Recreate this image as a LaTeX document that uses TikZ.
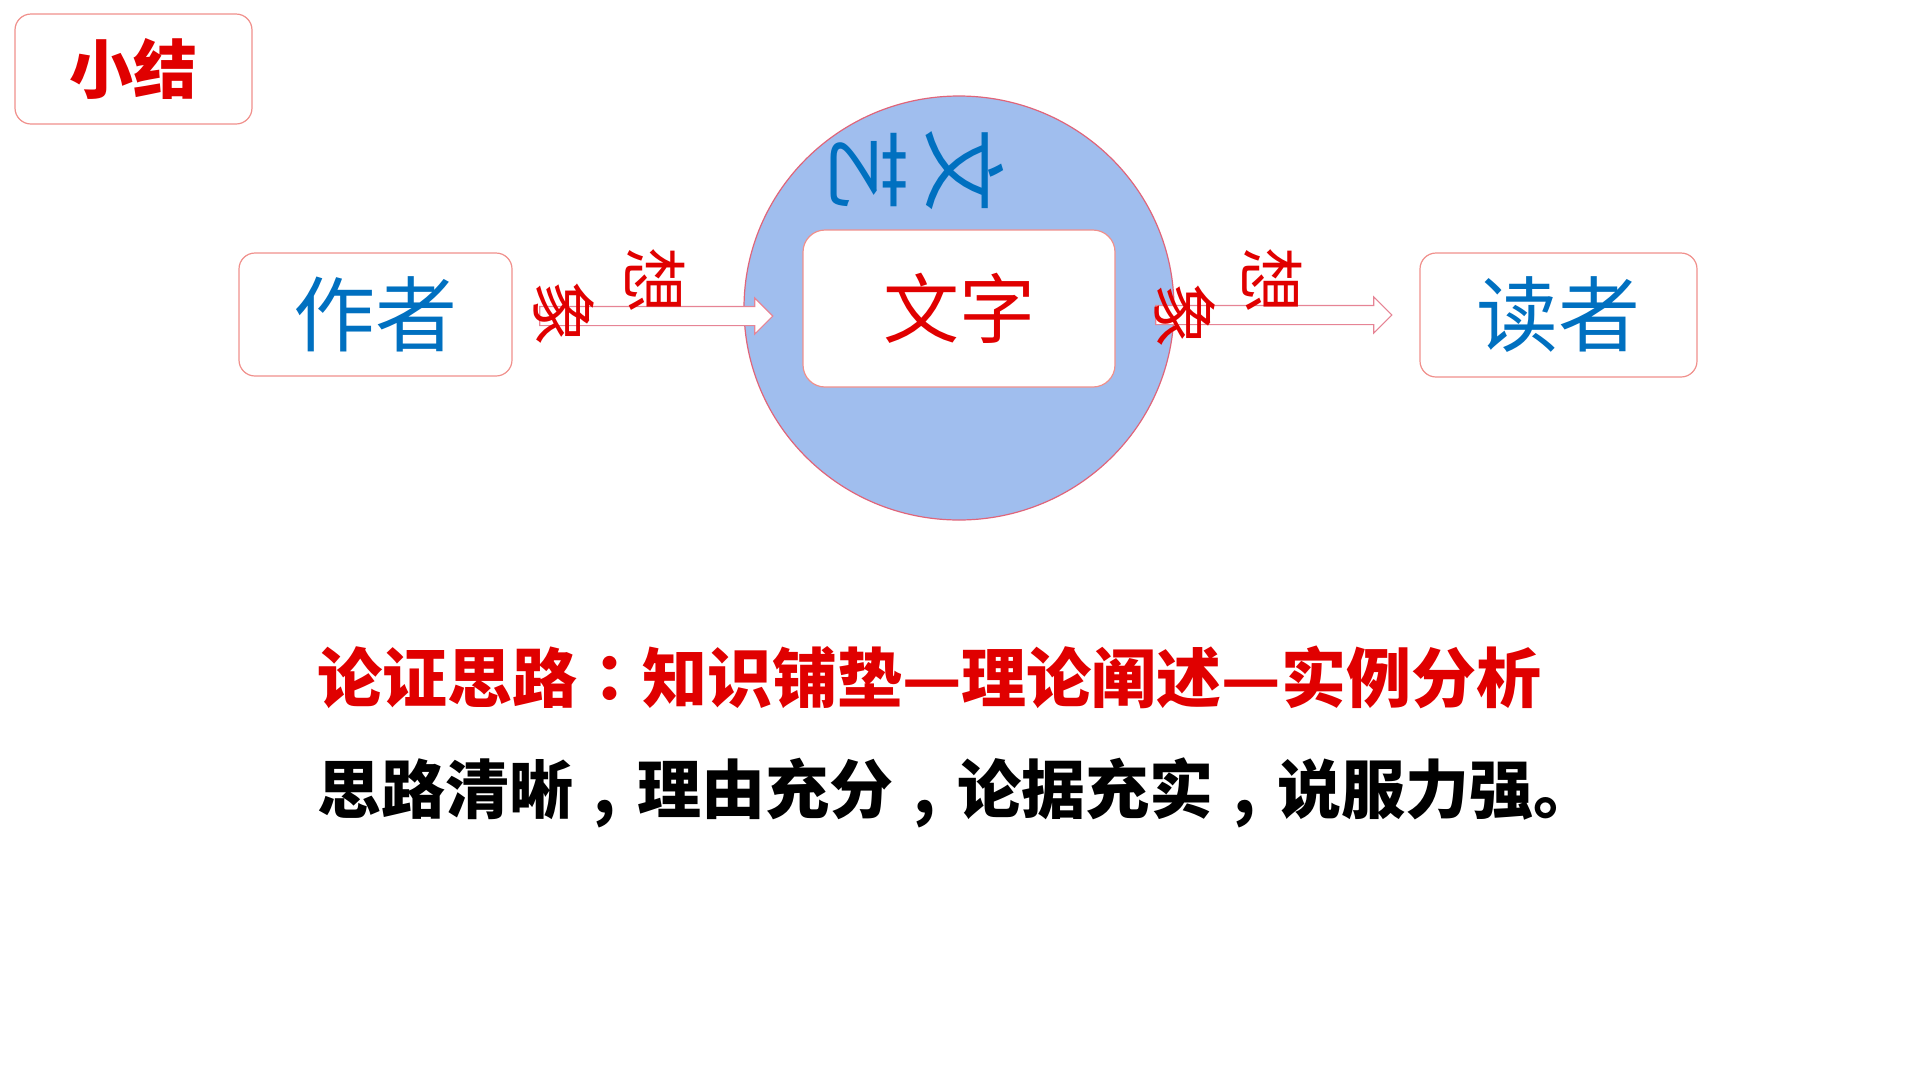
\documentclass[tikz,border=0pt]{standalone}
\usepackage{fontspec}
\usepackage{xcolor}
\usepackage{tikz}
\usetikzlibrary{shapes.geometric,shapes.arrows}
\newfontfamily\cjk{Noto Sans CJK SC}
\newfontfamily\cjkpunct{Noto Sans CJK TC}
\newcommand{\zdou}{\makebox[1em][c]{,}}
\definecolor{hongc}{HTML}{E00000}
\definecolor{lanc}{HTML}{0070C0}
\definecolor{quanbg}{HTML}{A0BEEE}
\definecolor{quanln}{HTML}{E0657A}
\definecolor{kuangln}{HTML}{F0908C}
\tikzset{
  kuang/.style={draw=kuangln,line width=1.2pt,rounded corners=16pt,fill=white,inner sep=0pt,align=center},
  jiantou/.style={single arrow,draw=quanln!80,line width=1.1pt,fill=white,inner xsep=0pt,inner ysep=9pt,
    single arrow head extend=8.5pt,single arrow tip angle=90},
  xiang/.style={font=\cjk\fontsize{66}{66}\selectfont,text=hongc,rotate=-90,inner sep=0pt},
  wenyi/.style={font=\cjk\fontsize{84}{84}\selectfont,text=lanc,rotate=-90,inner sep=0pt}
}
\begin{document}
\begin{tikzpicture}[x=1pt,y=-1pt]
\useasboundingbox (0,0) rectangle (1920,1080);
\node[kuang,minimum width=237pt,minimum height=110pt,font=\cjk\bfseries\fontsize{64}{64}\selectfont,text=hongc] (xiaojie) at (133.5,69) {小结};
\node[ellipse,draw=quanln,line width=1.2pt,fill=quanbg,minimum width=430pt,minimum height=424pt] (quan) at (959,308) {};
\node[kuang,rounded corners=22pt,minimum width=312pt,minimum height=157pt,font=\cjk\fontsize{76}{76}\selectfont,text=hongc] (wenzi) at (959,308.5) {文字};
\node[wenyi] (wen) at (965,170) {文};
\node[wenyi] (yi) at (869,170) {艺};
\node[kuang,minimum width=273pt,minimum height=123pt,font=\cjk\fontsize{82}{82}\selectfont,text=lanc] (zuozhe) at (375.5,314.5) {作者};
\node[kuang,minimum width=277pt,minimum height=124pt,font=\cjk\fontsize{82}{82}\selectfont,text=lanc] (duzhe) at (1558.5,315) {读者};
\node[jiantou,minimum height=233pt] (jtzuo) at (651.5,316) {};
\node[jiantou,minimum height=236pt] (jtyou) at (1269,315) {};
\node[xiang] (xiangzuo) at (655,280) {想};
\node[xiang] (xiangzuo2) at (564,313) {象};
\node[xiang] (xiangyou) at (1272,280) {想};
\node[xiang] (xiangyou2) at (1185,315) {象};
\node[anchor=west,inner sep=0pt,font=\cjk\bfseries\fontsize{65}{65}\selectfont,text=hongc] (silu) at (317,677) {论证思路{\cjkpunct ：}知识铺垫—理论阐述—实例分析};
\node[anchor=west,inner sep=0pt,font=\cjk\bfseries\fontsize{64}{64}\selectfont] (pingjia) at (317,793) {思路清晰\zdou 理由充分\zdou 论据充实\zdou 说服力强。};
\end{tikzpicture}
\end{document}
